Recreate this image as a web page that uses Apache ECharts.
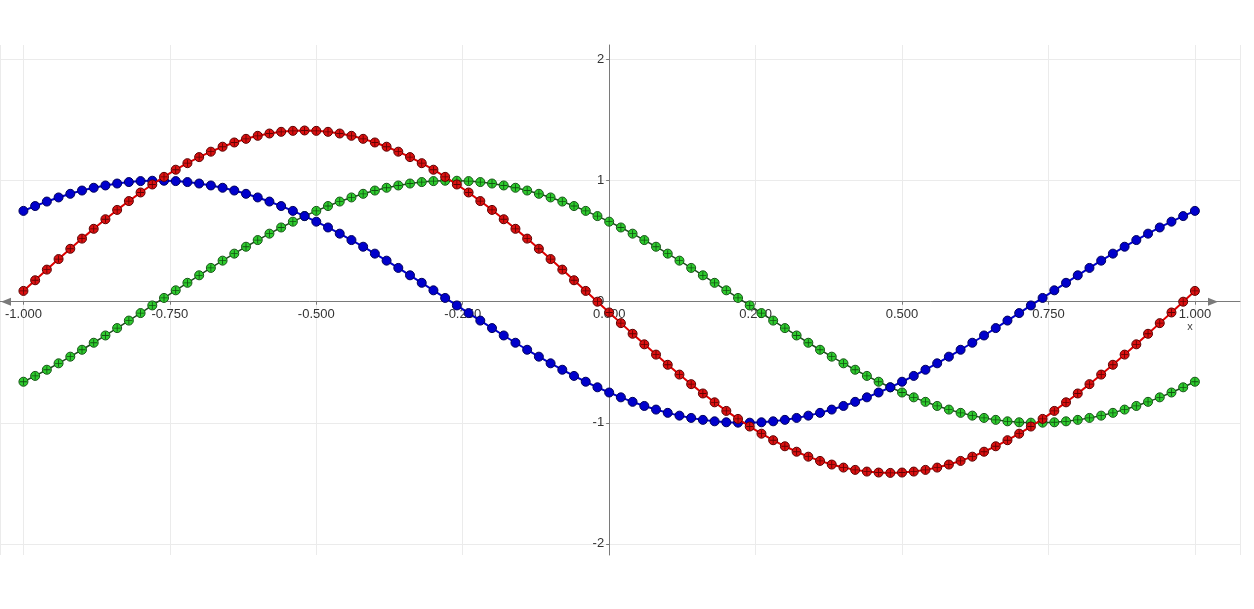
<!DOCTYPE html>
<html>
<head>
<meta charset="utf-8">
<script src="https://cdn.jsdelivr.net/npm/echarts@6/dist/echarts.min.js"></script>
<style>
html,body{margin:0;padding:0;background:#ffffff;}
#chart{width:1254px;height:609px;}
</style>
</head>
<body>
<div id="chart"></div>
<script>
// x positions of the sampled points
const xValues = [
-1.00,-0.98,-0.96,-0.94,-0.92,-0.90,-0.88,-0.86,-0.84,-0.82,
-0.80,-0.78,-0.76,-0.74,-0.72,-0.70,-0.68,-0.66,-0.64,-0.62,
-0.60,-0.58,-0.56,-0.54,-0.52,-0.50,-0.48,-0.46,-0.44,-0.42,
-0.40,-0.38,-0.36,-0.34,-0.32,-0.30,-0.28,-0.26,-0.24,-0.22,
-0.20,-0.18,-0.16,-0.14,-0.12,-0.10,-0.08,-0.06,-0.04,-0.02,
0.00,0.02,0.04,0.06,0.08,0.10,0.12,0.14,0.16,0.18,
0.20,0.22,0.24,0.26,0.28,0.30,0.32,0.34,0.36,0.38,
0.40,0.42,0.44,0.46,0.48,0.50,0.52,0.54,0.56,0.58,
0.60,0.62,0.64,0.66,0.68,0.70,0.72,0.74,0.76,0.78,
0.80,0.82,0.84,0.86,0.88,0.90,0.92,0.94,0.96,0.98,
1.00
];

// blue series values
const blueValues = [
0.750,0.790,0.827,0.861,0.891,0.918,0.941,0.960,0.976,0.988,
0.996,0.999,0.999,0.996,0.988,0.976,0.960,0.941,0.918,0.891,
0.861,0.827,0.790,0.750,0.707,0.661,0.613,0.562,0.509,0.454,
0.397,0.339,0.279,0.218,0.156,0.094,0.031,-0.031,-0.094,-0.156,
-0.218,-0.279,-0.339,-0.397,-0.454,-0.509,-0.562,-0.613,-0.661,-0.707,
-0.750,-0.790,-0.827,-0.861,-0.891,-0.918,-0.941,-0.960,-0.976,-0.988,
-0.996,-0.999,-0.999,-0.996,-0.988,-0.976,-0.960,-0.941,-0.918,-0.891,
-0.861,-0.827,-0.790,-0.750,-0.707,-0.661,-0.613,-0.562,-0.509,-0.454,
-0.397,-0.339,-0.279,-0.218,-0.156,-0.094,-0.031,0.031,0.094,0.156,
0.218,0.279,0.339,0.397,0.454,0.509,0.562,0.613,0.661,0.707,
0.750
];

// green series values
const greenValues = [
-0.661,-0.613,-0.562,-0.509,-0.454,-0.397,-0.339,-0.279,-0.218,-0.156,
-0.094,-0.031,0.031,0.094,0.156,0.218,0.279,0.339,0.397,0.454,
0.509,0.562,0.613,0.661,0.707,0.750,0.790,0.827,0.861,0.891,
0.918,0.941,0.960,0.976,0.988,0.996,0.999,0.999,0.996,0.988,
0.976,0.960,0.941,0.918,0.891,0.861,0.827,0.790,0.750,0.707,
0.661,0.613,0.562,0.509,0.454,0.397,0.339,0.279,0.218,0.156,
0.094,0.031,-0.031,-0.094,-0.156,-0.218,-0.279,-0.339,-0.397,-0.454,
-0.509,-0.562,-0.613,-0.661,-0.707,-0.750,-0.790,-0.827,-0.861,-0.891,
-0.918,-0.941,-0.960,-0.976,-0.988,-0.996,-0.999,-0.999,-0.996,-0.988,
-0.976,-0.960,-0.941,-0.918,-0.891,-0.861,-0.827,-0.790,-0.750,-0.707,
-0.661
];

// red series values
const redValues = [
0.089,0.177,0.265,0.352,0.437,0.521,0.602,0.681,0.758,0.831,
0.902,0.968,1.031,1.090,1.144,1.194,1.239,1.280,1.315,1.345,
1.370,1.389,1.403,1.411,1.414,1.411,1.403,1.389,1.370,1.345,
1.315,1.280,1.239,1.194,1.144,1.090,1.031,0.968,0.902,0.831,
0.758,0.681,0.602,0.521,0.437,0.352,0.265,0.177,0.089,0.000,
-0.089,-0.177,-0.265,-0.352,-0.437,-0.521,-0.602,-0.681,-0.758,-0.831,
-0.902,-0.968,-1.031,-1.090,-1.144,-1.194,-1.239,-1.280,-1.315,-1.345,
-1.370,-1.389,-1.403,-1.411,-1.414,-1.411,-1.403,-1.389,-1.370,-1.345,
-1.315,-1.280,-1.239,-1.194,-1.144,-1.090,-1.031,-0.968,-0.902,-0.831,
-0.758,-0.681,-0.602,-0.521,-0.437,-0.352,-0.265,-0.177,-0.089,0.000,
0.089
];

// axis settings
const xRange = [-1.04, 1.077];
const yRange = [-2.092, 2.12];
const xTickStep = 0.25;
const yTickStep = 1;

const W = 1254, H = 609;
const gridBox = {left: 0, right: 14, top: 45, bottom: 54};
const plotW = W - gridBox.left - gridBox.right;
const plotH = H - gridBox.top - gridBox.bottom;
// place each axis where the other axis has value 0
const yAxisShift = -((0 - xRange[0]) / (xRange[1] - xRange[0])) * plotW;
const xAxisShift = -((0 - yRange[0]) / (yRange[1] - yRange[0])) * plotH;

const pts = vals => xValues.map((x, i) => [x, vals[i]]);
const crossPath = 'path://M0,4.4H10V5.6H0Z M4.4,0H5.6V10H4.4Z';

const chart = echarts.init(document.getElementById('chart'), null, {renderer: 'canvas'});

function lineSeries(vals, lineColor, lineWidth, fill, border, z) {
  return {
    type: 'line',
    data: pts(vals),
    symbol: 'circle',
    symbolSize: 9,
    showSymbol: true,
    showAllSymbol: true,
    smooth: false,
    lineStyle: {color: lineColor, width: lineWidth},
    itemStyle: {color: fill, borderColor: border, borderWidth: 1},
    emphasis: {disabled: true},
    silent: true,
    z: z
  };
}
function crossSeries(vals, color, z) {
  return {
    type: 'scatter',
    data: pts(vals),
    symbol: crossPath,
    symbolSize: 7,
    itemStyle: {color: color, opacity: 0.85},
    emphasis: {disabled: true},
    silent: true,
    z: z
  };
}

chart.setOption({
  animation: false,
  backgroundColor: '#ffffff',
  grid: Object.assign({containLabel: false, outerBoundsMode: 'none'}, gridBox),
  xAxis: {
    type: 'value',
    position: 'bottom',
    offset: xAxisShift,
    min: xRange[0],
    max: xRange[1],
    minInterval: xTickStep,
    maxInterval: xTickStep,
    splitNumber: 8,
    axisLine: {
      show: true, onZero: false,
      lineStyle: {color: '#7a7a7a', width: 1},
      symbol: ['triangle', 'triangle'],
      symbolSize: [8, 10],
      symbolOffset: [6, -27]
    },
    axisTick: {show: true, length: 3, lineStyle: {color: '#7a7a7a'}},
    axisLabel: {
      formatter: v => v.toFixed(3),
      fontSize: 13, color: '#333333', margin: 6,
      fontFamily: 'Liberation Sans, Arial, sans-serif',
      showMinLabel: false, showMaxLabel: false
    },
    splitLine: {show: true, lineStyle: {color: '#ebebeb', width: 1}},
    name: 'x',
    nameLocation: 'end',
    nameGap: -50,
    nameTextStyle: {
      fontSize: 11, color: '#444444', align: 'center', verticalAlign: 'top',
      padding: [20, 0, 0, 0], fontFamily: 'Liberation Sans, Arial, sans-serif'
    }
  },
  yAxis: {
    type: 'value',
    position: 'left',
    offset: yAxisShift,
    min: yRange[0],
    max: yRange[1],
    minInterval: yTickStep,
    maxInterval: yTickStep,
    splitNumber: 4,
    axisLine: {show: true, onZero: false, lineStyle: {color: '#7a7a7a', width: 1}},
    axisTick: {show: true, length: 3, lineStyle: {color: '#7a7a7a'}},
    axisLabel: {
      fontSize: 13, color: '#333333', margin: 5,
      fontFamily: 'Liberation Sans, Arial, sans-serif',
      showMinLabel: false, showMaxLabel: false
    },
    splitLine: {show: true, showMinLine: false, showMaxLine: false, lineStyle: {color: '#ebebeb', width: 1}}
  },
  series: [
    lineSeries(greenValues, '#1e4d1e', 1.5, '#2ecc2e', '#145214', 2),
    crossSeries(greenValues, '#0d3d0d', 3),
    lineSeries(blueValues, '#0000cc', 2, '#0000cc', '#00005a', 4),
    lineSeries(redValues, '#dd0000', 2, '#dd1010', '#5a0000', 5),
    crossSeries(redValues, '#4a0000', 6)
  ]
});
</script>
</body>
</html>
